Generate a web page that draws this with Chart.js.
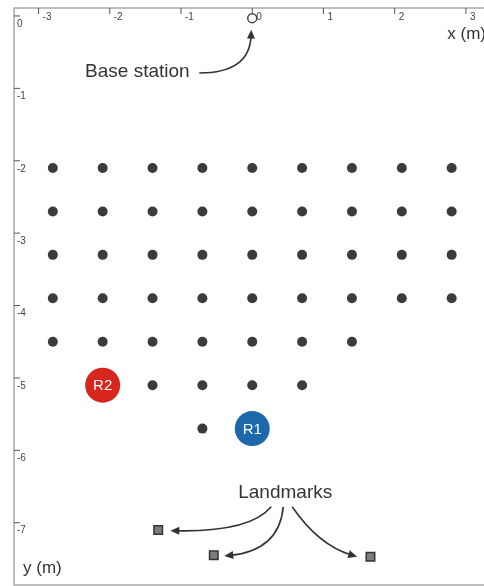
<!DOCTYPE html>
<html lang="en">
<head>
<meta charset="UTF-8">
<script src="https://cdn.jsdelivr.net/npm/chart.js"></script>
<title>Robot grid</title>
<style>
  body { margin: 0; background: #fff; }
  canvas { display: block; }
</style>
</head>
<body>
<canvas id="mapa" width="484" height="586"></canvas>
<script>
// tick labels
const xTicks = [-3, -2, -1, 0, 1, 2, 3];
const yTicks = [0, -1, -2, -3, -4, -5, -6, -7];

// sample grid (m), one x list per row
const rowY = [-2.1, -2.7, -3.3, -3.9, -4.5, -5.1, -5.7];
const rowX = [
  [-2.8, -2.1, -1.4, -0.7, 0, 0.7, 1.4, 2.1, 2.8],
  [-2.8, -2.1, -1.4, -0.7, 0, 0.7, 1.4, 2.1, 2.8],
  [-2.8, -2.1, -1.4, -0.7, 0, 0.7, 1.4, 2.1, 2.8],
  [-2.8, -2.1, -1.4, -0.7, 0, 0.7, 1.4, 2.1, 2.8],
  [-2.8, -2.1, -1.4, -0.7, 0, 0.7, 1.4],
  [-1.4, -0.7, 0, 0.7],
  [-0.7]
];

// robots
const robotNames = ['R1', 'R2'];
const robotX = [0, -2.1];
const robotY = [-5.7, -5.1];
const robotColors = ['#1b69ab', '#d6261d'];

// landmarks
const landmarkX = [-1.32, -0.54, 1.66];
const landmarkY = [-7.1, -7.45, -7.47];

// base station
const baseX = [0];
const baseY = [-0.03];

const gridPoints = [];
rowY.forEach((y, i) => rowX[i].forEach(x => gridPoints.push({ x: x, y: y })));

// annotation arrows, data units: start, control, end
const arrows = [
  [[-0.743, -0.787], [-0.035, -0.787], [-0.014, -0.19]],
  [[0.266, -6.78], [-0.03, -7.13], [-1.15, -7.11]],
  [[0.435, -6.78], [0.38, -7.38], [-0.393, -7.46]],
  [[0.561, -6.78], [0.93, -7.31], [1.473, -7.47]]
];

const inkColor = '#333333';
const frameColor = '#a8a8a8';

function arrowHead(ctx, x, y, ang) {
  const len = 9, half = 4;
  ctx.save();
  ctx.translate(x, y);
  ctx.rotate(ang);
  ctx.beginPath();
  ctx.moveTo(0, 0);
  ctx.lineTo(-len, -half);
  ctx.lineTo(-len, half);
  ctx.closePath();
  ctx.fill();
  ctx.restore();
}

const desenho = {
  id: 'desenho',
  beforeDatasetsDraw(chart) {
    const ctx = chart.ctx;
    const a = chart.chartArea;
    const sx = chart.scales.x, sy = chart.scales.y;
    ctx.save();
    ctx.strokeStyle = frameColor;
    ctx.lineWidth = 1.5;
    ctx.beginPath();
    ctx.moveTo(a.right, a.top);
    ctx.lineTo(a.left, a.top);
    ctx.lineTo(a.left, a.bottom);
    ctx.lineTo(a.right, a.bottom);
    ctx.stroke();

    ctx.strokeStyle = '#555';
    ctx.lineWidth = 1;
    ctx.fillStyle = '#444';
    ctx.font = '10px "Liberation Sans", Arial, sans-serif';
    ctx.textBaseline = 'middle';
    ctx.textAlign = 'left';
    xTicks.forEach(v => {
      const px = sx.getPixelForValue(v);
      ctx.beginPath();
      ctx.moveTo(px, a.top);
      ctx.lineTo(px, a.top + 6);
      ctx.stroke();
      ctx.fillText(String(v), px + 4, a.top + 9);
    });
    yTicks.forEach(v => {
      const py = sy.getPixelForValue(v);
      ctx.beginPath();
      ctx.moveTo(a.left, py);
      ctx.lineTo(a.left + 6, py);
      ctx.stroke();
      ctx.fillText(String(v), a.left + 3, py + 8);
    });

    ctx.fillStyle = inkColor;
    ctx.font = '17px "Liberation Sans", Arial, sans-serif';
    ctx.textAlign = 'right';
    ctx.fillText('x (m)', a.right + 2, a.top + 26);
    ctx.textAlign = 'left';
    ctx.fillText('y (m)', a.left + 9, a.bottom - 17);
    ctx.restore();
  },
  afterDatasetsDraw(chart) {
    const ctx = chart.ctx;
    const sx = chart.scales.x, sy = chart.scales.y;
    ctx.save();

    // robot labels
    const meta = chart.getDatasetMeta(1);
    ctx.fillStyle = '#ffffff';
    ctx.font = '15px "Liberation Sans", Arial, sans-serif';
    ctx.textAlign = 'center';
    ctx.textBaseline = 'middle';
    meta.data.forEach((pt, i) => ctx.fillText(robotNames[i], pt.x, pt.y + 1));

    // annotation text
    ctx.fillStyle = inkColor;
    ctx.font = '19px "Liberation Sans", Arial, sans-serif';
    ctx.fillText('Base station', sx.getPixelForValue(-1.613), sy.getPixelForValue(-0.773));
    ctx.fillText('Landmarks', sx.getPixelForValue(0.463), sy.getPixelForValue(-6.59));

    // arrows
    ctx.strokeStyle = inkColor;
    ctx.lineWidth = 1.6;
    arrows.forEach(ar => {
      const p = ar.map(q => [sx.getPixelForValue(q[0]), sy.getPixelForValue(q[1])]);
      const ang = Math.atan2(p[2][1] - p[1][1], p[2][0] - p[1][0]);
      const ex = p[2][0] - 6 * Math.cos(ang), ey = p[2][1] - 6 * Math.sin(ang);
      ctx.beginPath();
      ctx.moveTo(p[0][0], p[0][1]);
      ctx.quadraticCurveTo(p[1][0], p[1][1], ex, ey);
      ctx.stroke();
      arrowHead(ctx, p[2][0], p[2][1], ang);
    });
    ctx.restore();
  }
};

new Chart(document.getElementById('mapa'), {
  type: 'scatter',
  data: {
    datasets: [
      {
        label: 'Grid',
        data: gridPoints,
        pointRadius: 5,
        pointBackgroundColor: '#3b3b3b',
        pointBorderWidth: 0
      },
      {
        label: 'Robots',
        data: robotX.map((x, i) => ({ x: x, y: robotY[i] })),
        pointRadius: 17.5,
        pointBackgroundColor: robotColors,
        pointBorderWidth: 0
      },
      {
        label: 'Landmarks',
        data: landmarkX.map((x, i) => ({ x: x, y: landmarkY[i] })),
        pointStyle: 'rect',
        pointRadius: 6,
        pointBackgroundColor: '#7d7d7d',
        pointBorderColor: '#333',
        pointBorderWidth: 1.5
      },
      {
        label: 'Base station',
        data: baseX.map((x, i) => ({ x: x, y: baseY[i] })),
        pointRadius: 4.5,
        pointBackgroundColor: 'rgba(0,0,0,0)',
        pointBorderColor: '#444',
        pointBorderWidth: 1.5,
        clip: false
      }
    ]
  },
  options: {
    responsive: false,
    animation: false,
    devicePixelRatio: 1,
    layout: { autoPadding: false, padding: { left: 14, top: 8, right: 0, bottom: 1 } },
    scales: {
      x: { type: 'linear', min: -3.345, max: 3.254, display: false },
      y: { type: 'linear', min: -7.86, max: 0.11, display: false }
    },
    plugins: {
      legend: { display: false },
      tooltip: { enabled: false }
    },
    events: []
  },
  plugins: [desenho]
});
</script>
</body>
</html>
